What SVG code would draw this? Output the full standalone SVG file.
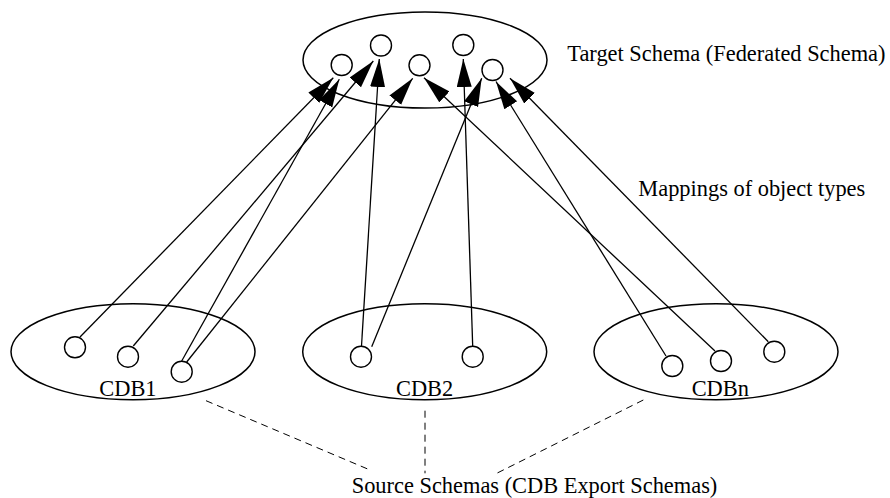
<svg xmlns="http://www.w3.org/2000/svg" width="890" height="498" viewBox="0 0 890 498">
<style>
.schema{fill:none;stroke:#000;stroke-width:1.5}
.obj{fill:#fff;stroke:#000;stroke-width:1.4}
.map{fill:none;stroke:#000;stroke-width:1.3;marker-end:url(#arrow)}
.dash{fill:none;stroke:#000;stroke-width:1;stroke-dasharray:7 5}
text{font-family:"Liberation Serif","Times New Roman",serif;font-size:22.4px;fill:#000}
</style>
<defs>
<marker id="arrow" markerUnits="userSpaceOnUse" markerWidth="30" markerHeight="16" refX="28" refY="7.5" orient="auto">
<path d="M0,0 L28,7.5 L0,15 z" fill="#000"/>
</marker>
</defs>
<g id="target-schema">
<ellipse class="schema" cx="425" cy="60" rx="122" ry="48"/>
</g>
<g id="cdb1">
<ellipse class="schema" cx="133" cy="351.7" rx="122" ry="48"/>
<text x="99.3" y="396">CDB1</text>
</g>
<g id="cdb2">
<ellipse class="schema" cx="424.7" cy="351.7" rx="122" ry="48"/>
<text x="396" y="396">CDB2</text>
</g>
<g id="cdbn">
<ellipse class="schema" cx="716" cy="351.7" rx="122" ry="48"/>
<text x="691.7" y="396">CDBn</text>
</g>
<g id="connectors">
<line class="map" x1="80" y1="337" x2="333.3" y2="77.7"/>
<line class="map" x1="133.3" y1="346" x2="373.3" y2="61"/>
<line class="map" x1="181.7" y1="361" x2="339.3" y2="79.3"/>
<line class="map" x1="186.7" y1="362" x2="412.7" y2="78.3"/>
<line class="map" x1="361.5" y1="346" x2="379.3" y2="59"/>
<line class="map" x1="371.7" y1="346.7" x2="481.7" y2="78.3"/>
<line class="map" x1="472.7" y1="346" x2="463.3" y2="59"/>
<line class="map" x1="715" y1="351" x2="424" y2="77.7"/>
<line class="map" x1="666" y1="356" x2="496" y2="81.5"/>
<line class="map" x1="768.3" y1="341.7" x2="510" y2="78.3"/>
<line class="dash" x1="206" y1="400.7" x2="371.7" y2="470.7"/>
<line class="dash" x1="425" y1="410.7" x2="425" y2="473.3"/>
<line class="dash" x1="643.3" y1="400" x2="496.7" y2="473.3"/>
</g>
<g id="t1"><circle class="obj" cx="341.7" cy="65" r="10.5"/></g>
<g id="t2"><circle class="obj" cx="381" cy="45.5" r="10.5"/></g>
<g id="t3"><circle class="obj" cx="419.5" cy="65.3" r="10.5"/></g>
<g id="t4"><circle class="obj" cx="463.3" cy="45" r="10.5"/></g>
<g id="t5"><circle class="obj" cx="492.5" cy="70" r="10.5"/></g>
<g id="s11"><circle class="obj" cx="75" cy="347.3" r="10.5"/></g>
<g id="s12"><circle class="obj" cx="128" cy="356.7" r="10.5"/></g>
<g id="s13"><circle class="obj" cx="181.7" cy="371.7" r="10.5"/></g>
<g id="s21"><circle class="obj" cx="361" cy="356.7" r="10.5"/></g>
<g id="s22"><circle class="obj" cx="472.7" cy="356.7" r="10.5"/></g>
<g id="sn1"><circle class="obj" cx="672.3" cy="366" r="10.5"/></g>
<g id="sn2"><circle class="obj" cx="721" cy="361" r="10.5"/></g>
<g id="sn3"><circle class="obj" cx="774.3" cy="351.7" r="10.5"/></g>
<g id="labels">
<text x="567.3" y="60.5">Target Schema (Federated Schema)</text>
<text x="638.3" y="195.5">Mappings of object types</text>
<text x="351.7" y="492.5">Source Schemas (CDB Export Schemas)</text>
</g>
</svg>
